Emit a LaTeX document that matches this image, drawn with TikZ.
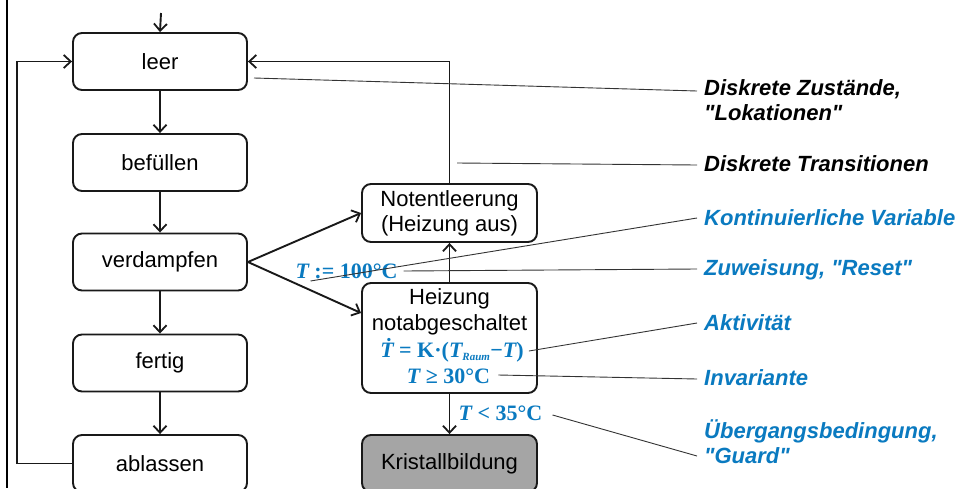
\documentclass[tikz,border=0pt]{standalone}
\usepackage{fontspec}
\setmainfont{Liberation Sans}
\newfontfamily\tnr{Liberation Serif}
\usetikzlibrary{arrows.meta,calc}
\definecolor{lblue}{RGB}{10,122,192}
\definecolor{kgray}{RGB}{165,165,165}
\begin{document}
\begin{tikzpicture}[x=1pt,y=-1pt,
  state/.style={draw=black!90, line width=1.9pt, rounded corners=9pt, minimum width=174pt,
     minimum height=57pt, inner sep=0pt, align=center, font=\fontsize{22}{25}\selectfont},
  conn/.style={line width=1.9pt, draw=black!90, -{Straight Barb[length=7pt,width=13pt,line width=1.8pt]}},
  call/.style={line width=0.9pt, draw=black!80},
  lab/.style={anchor=west, inner sep=0pt, align=left, font=\fontsize{22}{25}\selectfont\bfseries\itshape},
  mth/.style={inner sep=0pt, text=lblue, font=\fontsize{22}{24}\selectfont\tnr\bfseries}]
\useasboundingbox (0,0) rectangle (962,488);
\clip (0,0) rectangle (962,488);
\fill[white] (0,0) rectangle (962,488);
% left border
\draw[line width=2.5pt] (7,0) -- (7,488);
% states
\node[state] (leer) at (160,61.5) {leer};
\node[state] (bef) at (160,162.5) {befüllen};
\node[state] (verd) at (160,262) {verdampfen};
\node[state] (fert) at (160,363) {fertig};
\node[state] (abl) at (160,463.5) {ablassen};
\node[state, minimum width=175pt, minimum height=58pt] (note) at (449.5,213) {Notentleerung\\(Heizung aus)};
\node[state, minimum width=175pt, minimum height=110pt] (heiz) at (449.5,338) {};
\node[inner sep=0pt, align=center, font=\fontsize{22}{26}\selectfont] (heiztxt) at (449.5,311.5) {Heizung\\notabgeschaltet};
\node[state, minimum width=175pt, fill=kgray] (krist) at (449.5,463.5) {Kristallbildung};
% math labels
\node[mth] (act) at (452,350) {\itshape\.{T} \upshape= K·(\itshape T\textsubscript{\fontsize{11}{12}\selectfont Raum}\upshape−\itshape T\upshape)};
\node[mth] (inv) at (448.5,376) {\itshape T\upshape\ ≥ 30°C};
\node[mth] (grd) at (500.5,413) {\itshape T\upshape\ < 35°C};
\node[mth] (rst) at (346.5,271) {\itshape T\upshape\ := 100°C};
% entry
\coordinate (entry) at (161,13);
\draw[conn] (entry) -- (leer.north);
% chain
\draw[conn] (leer) -- (bef);
\draw[conn] (bef) -- (verd);
\draw[conn] (verd) -- (fert);
\draw[conn] (fert) -- (abl);
% loop back
\draw[conn, line width=1.5pt] (abl.west) -- (17,463.5) -- (17,61.5) -- (leer.west);
% verdampfen branches
\draw[conn] (verd.east) -- (note.west);
\draw[conn] (verd.east) -- ($(heiz.west)+(0,-25)$);
% heizung to note, krist
\draw[conn] (heiz.north) -- (note.south);
\draw[conn] (heiz.south) -- (krist.north);
% notentleerung to leer
\draw[conn] (note.north) -- (449.5,61.5) -- (leer.east);
% right labels
\node[lab] (l1) at (704,100.5) {Diskrete Zustände,\\\textquotedbl Lokationen\textquotedbl};
\node[lab] (l2) at (704,164) {Diskrete Transitionen};
\node[lab, text=lblue] (l3) at (704,218) {Kontinuierliche Variable};
\node[lab, text=lblue] (l4) at (704,270) {Zuweisung, \textquotedbl Reset\textquotedbl};
\node[lab, text=lblue] (l5) at (704,323) {Aktivität};
\node[lab, text=lblue] (l6) at (704,378) {Invariante};
\node[lab, text=lblue] (l7) at (704,442) {Übergangsbedingung,\\\textquotedbl Guard\textquotedbl};
% callouts
\draw[call] (254,78) -- ([xshift=-7pt,yshift=9.5pt]l1.west);
\draw[call] (457,163) -- ([xshift=-7pt,yshift=-1pt]l2.west);
\draw[call] ([xshift=-36pt,yshift=-10pt]rst.center) -- ([xshift=-7pt]l3.west);
\draw[call] ([xshift=6pt]rst.east) -- ([xshift=-7pt,yshift=1pt]l4.west);
\draw[call] ([xshift=5pt,yshift=-1pt]act.east) -- ([xshift=-7pt]l5.west);
\draw[call] ([xshift=8pt,yshift=1pt]inv.east) -- ([xshift=-7pt,yshift=-1pt]l6.west);
\draw[call] ([xshift=10pt,yshift=-2pt]grd.east) -- ([xshift=-7pt,yshift=-14pt]l7.west);
\end{tikzpicture}
\end{document}
